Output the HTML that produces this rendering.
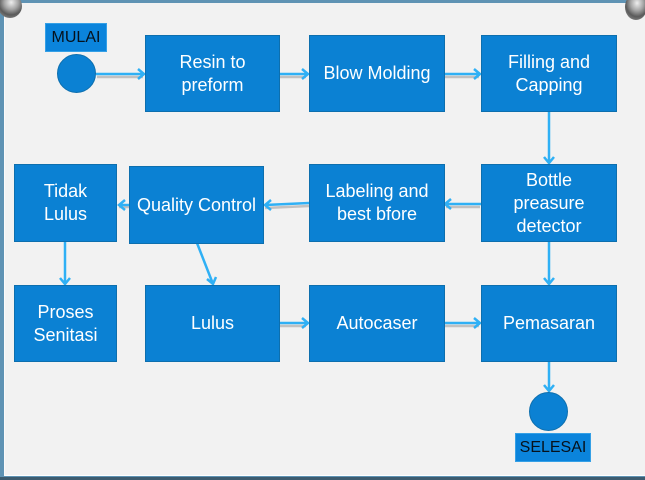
<!DOCTYPE html>
<html>
<head>
<meta charset="utf-8">
<style>
html,body{margin:0;padding:0}
body{width:645px;height:480px;overflow:hidden;position:relative;background:#5f93b4}
#paper{position:absolute;left:4px;top:3px;width:641px;height:473px;background:#f2f2f2;border-left:1px solid #fafafa;border-bottom:1px solid #fff;box-sizing:border-box}
#bot{position:absolute;left:0;top:477px;width:645px;height:3px;background:#3d5c70}
.b{position:absolute;box-sizing:border-box;background:#0b81d3;border:1px solid #0d6fae;color:#fff;font:18px/23px "Liberation Sans",sans-serif;display:flex;align-items:center;justify-content:center;text-align:center}
.l{position:absolute;box-sizing:border-box;background:#0b84dc;border:1px solid #35a0e6;color:#06111c;font:16px "Liberation Sans",sans-serif;display:flex;align-items:center;justify-content:center}
.c{position:absolute;box-sizing:border-box;width:39px;height:39px;border-radius:50%;background:#0b81d3;border:1px solid #0d6fae}
svg{position:absolute;left:0;top:0}
</style>
</head>
<body>
<div id="paper"></div>
<div id="bot"></div>
<svg width="645" height="480" viewBox="0 0 645 480">
<defs>
<radialGradient id="pin" cx="55%" cy="35%" r="65%">
<stop offset="0" stop-color="#eeeeee"/><stop offset=".45" stop-color="#a5a5a5"/><stop offset=".8" stop-color="#5a5a5a"/><stop offset="1" stop-color="#777"/>
</radialGradient>
</defs>
<ellipse cx="10" cy="6" rx="12" ry="12" fill="url(#pin)"/>
<ellipse cx="636" cy="7" rx="11" ry="13" fill="url(#pin)"/>
<g fill="none" stroke="#b9b9b9" stroke-width="2.5" opacity=".85">
<path d="M97 77H143M280 77H306M445 77H479M446 207H480M265 208L309 206M119 207H129M280 326H306M445 326H479"/>
</g>
<g fill="none" stroke="#2fb0f5" stroke-width="2.5">
<path d="M96 74H144M138 69l6 5-6 5"/>
<path d="M280 74H308M302 69l6 5-6 5"/>
<path d="M445 74H480M474 69l6 5-6 5"/>
<path d="M549 112V163M544 157l5 6 5-6"/>
<path d="M481 204H445M451 199l-6 5 6 5"/>
<path d="M309 203L265 205M271 200l-6 5 6 5"/>
<path d="M129 205H119M125 200l-6 5 6 5"/>
<path d="M65 241V284M60 278l5 6 5-6"/>
<path d="M197 243L213 284M207 279l6 5 3-7"/>
<path d="M280 323H308M302 318l6 5-6 5"/>
<path d="M445 323H480M474 318l6 5-6 5"/>
<path d="M549 242V284M544 278l5 6 5-6"/>
<path d="M549 362V391M544 385l5 6 5-6"/>
</g>
</svg>
<div class="l" style="left:45px;top:23px;width:62px;height:29px">MULAI</div>
<div class="c" style="left:57px;top:54px"></div>
<div class="b" style="left:145px;top:35px;width:135px;height:77px">Resin to<br>preform</div>
<div class="b" style="left:309px;top:35px;width:136px;height:77px">Blow Molding</div>
<div class="b" style="left:481px;top:35px;width:136px;height:77px">Filling and<br>Capping</div>
<div class="b" style="left:481px;top:164px;width:136px;height:78px">Bottle<br>preasure<br>detector</div>
<div class="b" style="left:309px;top:164px;width:136px;height:78px">Labeling and<br>best bfore</div>
<div class="b" style="left:129px;top:166px;width:135px;height:78px">Quality Control</div>
<div class="b" style="left:14px;top:164px;width:103px;height:78px">Tidak<br>Lulus</div>
<div class="b" style="left:14px;top:285px;width:103px;height:77px">Proses<br>Senitasi</div>
<div class="b" style="left:145px;top:285px;width:135px;height:77px">Lulus</div>
<div class="b" style="left:309px;top:285px;width:136px;height:77px">Autocaser</div>
<div class="b" style="left:481px;top:285px;width:136px;height:77px">Pemasaran</div>
<div class="c" style="left:529px;top:392px"></div>
<div class="l" style="left:515px;top:433px;width:76px;height:29px">SELESAI</div>
</body>
</html>
